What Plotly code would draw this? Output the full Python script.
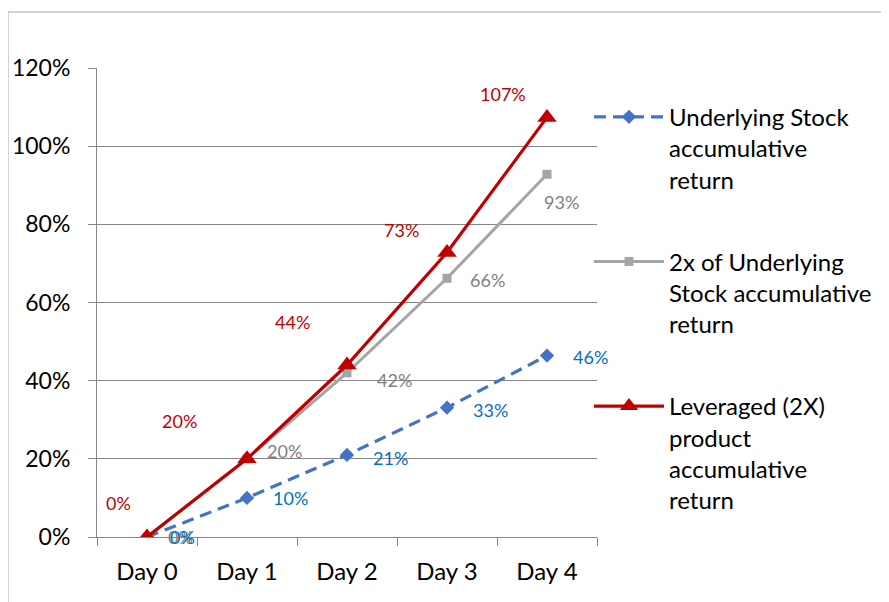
import plotly.graph_objects as go

days = ["Day 0", "Day 1", "Day 2", "Day 3", "Day 4"]
underlying = [0.0, 0.10, 0.21, 0.331, 0.4641]
double_underlying = [0.0, 0.20, 0.42, 0.662, 0.9282]
leveraged = [0.0, 0.20, 0.44, 0.728, 1.0736]
underlying_labels = ["0%", "10%", "21%", "33%", "46%"]
double_labels = ["0%", "20%", "42%", "66%", "93%"]
leveraged_labels = ["0%", "20%", "44%", "73%", "107%"]
names = [
    "Underlying Stock<br>accumulative<br>return",
    "2x of Underlying<br>Stock accumulative<br>return",
    "Leveraged (2X)<br>product<br>accumulative<br>return",
]

BLUE, GRAY, RED = "#4472C4", "#A5A5A5", "#C00000"
BLUE_T, GRAY_T, RED_T = "#0070C0", "#7F7F7F", "#C00000"
FONT = "Lato"

fig = go.Figure()
fig.add_trace(go.Scatter(x=days, y=underlying, name=names[0], mode="lines+markers",
                         line=dict(color=BLUE, width=3.2, dash="12px,7px"),
                         marker=dict(symbol="diamond", size=11, color=BLUE),
                         legendgroup="a"))
fig.add_trace(go.Scatter(x=days, y=double_underlying, name=names[1], mode="lines+markers",
                         line=dict(color=GRAY, width=3),
                         marker=dict(symbol="square", size=9, color=GRAY),
                         legendgroup="b"))
fig.add_trace(go.Scatter(x=days, y=leveraged, name=names[2], mode="lines+markers",
                         line=dict(color=RED, width=3.2),
                         marker=dict(symbol="triangle-up", size=17, color=RED),
                         legendgroup="c"))

# label offsets (pixels) - styling only
gray_shift = [(33, 0), (37, 8), (47, -7), (40, -2), (14, -28)]
blue_shift = [(35, 0), (43, 0), (43, -3), (43, -2), (43, -1)]
red_shift = [(-29, 34), (-68, 38), (-55, 43), (-46, 22), (-44, 23)]

ann = []
for vals, labs, shifts, col in [(double_underlying, double_labels, gray_shift, GRAY_T),
                                (underlying, underlying_labels, blue_shift, BLUE_T),
                                (leveraged, leveraged_labels, red_shift, RED_T)]:
    for d, v, t, (dx, dy) in zip(days, vals, labs, shifts):
        ann.append(dict(x=d, y=v, xref="x", yref="y", text=t, showarrow=False,
                        xshift=dx, yshift=dy, font=dict(family=FONT, size=18, color=col)))

fig.update_layout(
    width=889, height=602,
    margin=dict(l=89, r=300, t=60, b=73),
    paper_bgcolor="white", plot_bgcolor="white",
    showlegend=True,
    hovermode=False,
    annotations=ann,
    legend=dict(x=0.984, y=0.943, xanchor="left", yanchor="top",
                font=dict(family=FONT, size=24, color="black"),
                valign="top", traceorder="grouped", tracegroupgap=48,
                itemwidth=70, bgcolor="rgba(0,0,0,0)"),
    xaxis=dict(type="category", range=[-0.5, 4.5], showline=True, linecolor="#868686",
               linewidth=1, ticks="outside", tickson="boundaries", ticklen=8,
               tickcolor="#868686", showgrid=False, ticklabelstandoff=13, automargin=False,
               tickfont=dict(family=FONT, size=24, color="black")),
    yaxis=dict(range=[0, 1.2], dtick=0.2, tickformat=".0%", showline=True,
               linecolor="#868686", linewidth=1, ticks="outside", ticklen=8,
               tickcolor="#868686", showgrid=True, gridcolor="#868686", gridwidth=1,
               zeroline=False, ticklabelstandoff=13, automargin=False,
               tickfont=dict(family=FONT, size=23, color="black")),
    shapes=[dict(type="rect", xref="paper", yref="paper", x0=-0.178, x1=1.9,
                 y0=-0.2, y1=1.1194, line=dict(color="#A6A6A6", width=1),
                 fillcolor="rgba(0,0,0,0)", layer="below")],
)

fig.write_html("out.html")
